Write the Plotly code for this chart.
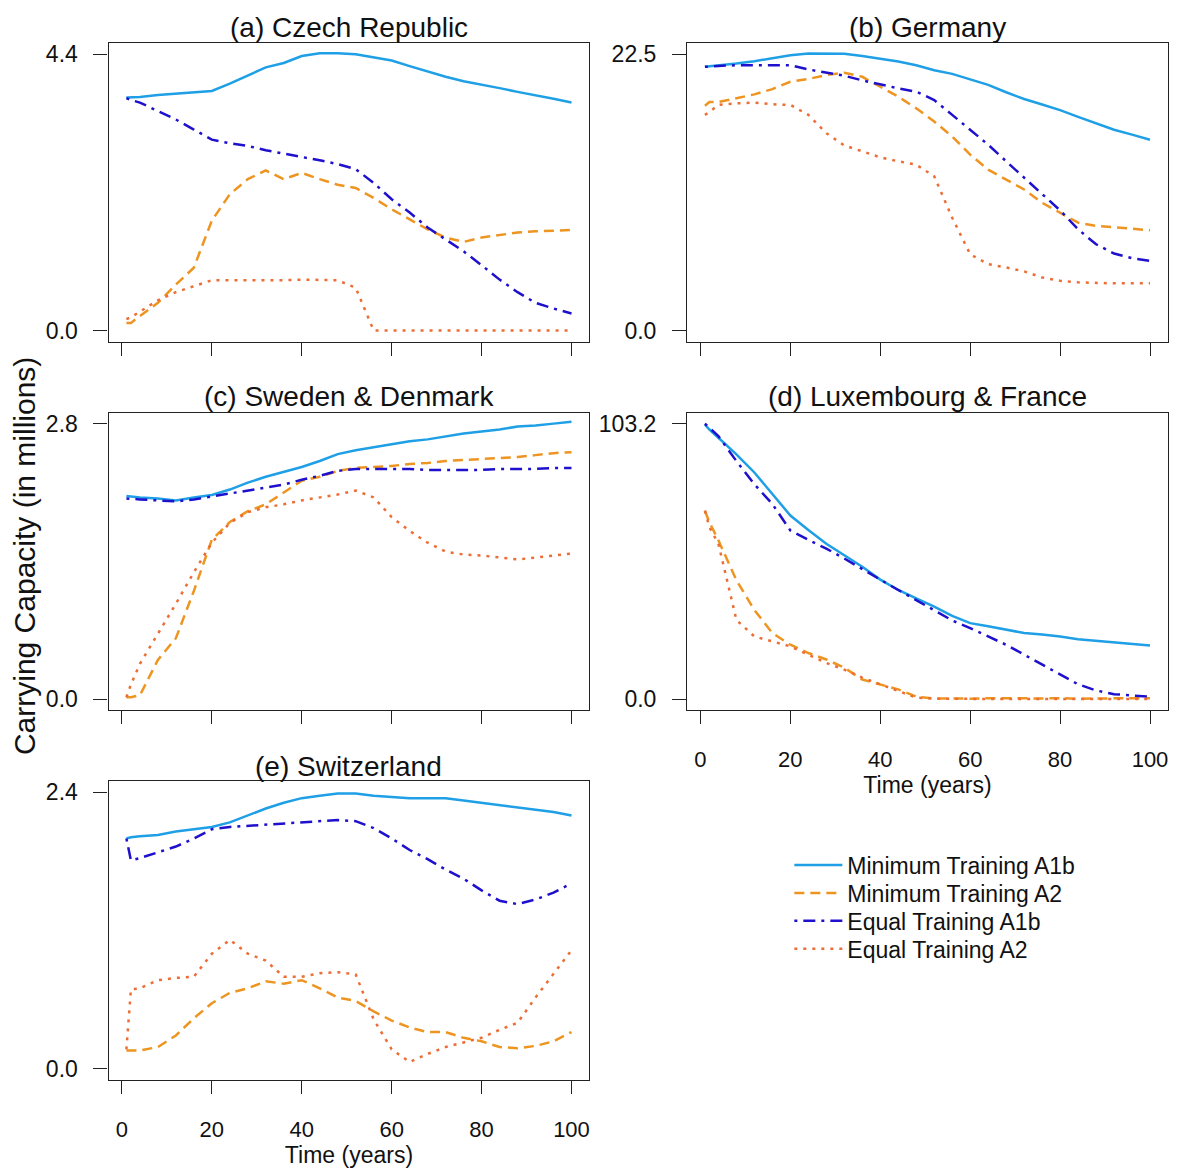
import plotly.graph_objects as go

# ---------------- data ----------------
years = [1, 2, 4, 8, 12, 16, 20, 24, 28, 32, 36, 40, 44, 48, 52, 56, 60, 64, 68, 72, 76, 80, 84, 88, 92, 96, 100]

series_names = ["Minimum Training A1b", "Minimum Training A2", "Equal Training A1b", "Equal Training A2"]

# (a) Czech Republic
cz_min_a1b = [3.71, 3.71, 3.72, 3.75, 3.77, 3.80, 3.815, 3.93, 4.06, 4.19, 4.26, 4.37, 4.415, 4.415, 4.40, 4.35, 4.30, 4.21, 4.12, 4.04, 3.97, 3.92, 3.86, 3.80, 3.75, 3.69, 3.63]
cz_min_a2 = [0.12, 0.12, 0.23, 0.44, 0.73, 1.00, 1.75, 2.17, 2.41, 2.55, 2.41, 2.51, 2.41, 2.32, 2.27, 2.11, 1.93, 1.77, 1.61, 1.48, 1.41, 1.48, 1.52, 1.56, 1.58, 1.59, 1.60]
cz_eq_a1b = [3.70, 3.67, 3.63, 3.50, 3.36, 3.20, 3.04, 2.98, 2.94, 2.87, 2.82, 2.77, 2.71, 2.65, 2.57, 2.35, 2.09, 1.88, 1.64, 1.45, 1.26, 1.04, 0.81, 0.61, 0.44, 0.35, 0.27]
cz_eq_a2 = [0.18, 0.21, 0.30, 0.48, 0.61, 0.71, 0.80, 0.80, 0.80, 0.79, 0.80, 0.81, 0.81, 0.80, 0.68, 0.0, 0.0, 0.0, 0.0, 0.0, 0.0, 0.0, 0.0, 0.0, 0.0, 0.0, 0.0]

# (b) Germany
de_min_a1b = [21.47, 21.5, 21.6, 21.74, 21.93, 22.15, 22.42, 22.55, 22.55, 22.53, 22.35, 22.15, 21.9, 21.6, 21.2, 20.9, 20.45, 20.0, 19.4, 18.85, 18.4, 17.95, 17.4, 16.9, 16.35, 15.95, 15.53]
de_min_a2 = [18.3, 18.6, 18.6, 18.9, 19.23, 19.66, 20.26, 20.48, 20.80, 20.99, 20.66, 19.85, 19.04, 18.1, 17.02, 15.8, 14.32, 13.1, 12.29, 11.48, 10.4, 9.59, 8.78, 8.51, 8.37, 8.29, 8.16]
de_eq_a1b = [21.47, 21.5, 21.55, 21.6, 21.6, 21.6, 21.6, 21.26, 21.0, 20.75, 20.37, 20.04, 19.72, 19.45, 18.77, 17.56, 16.34, 15.13, 13.78, 12.43, 11.07, 9.78, 8.24, 7.02, 6.27, 5.89, 5.67]
de_eq_a2 = [17.56, 17.8, 18.37, 18.5, 18.56, 18.42, 18.37, 17.56, 16.07, 15.07, 14.59, 14.1, 13.78, 13.5, 12.56, 9.18, 6.21, 5.4, 5.13, 4.81, 4.32, 4.05, 3.92, 3.86, 3.84, 3.84, 3.84]

# (c) Sweden & Denmark
sedk_min_a1b = [2.065, 2.06, 2.05, 2.04, 2.02, 2.05, 2.075, 2.13, 2.20, 2.26, 2.31, 2.36, 2.42, 2.49, 2.53, 2.56, 2.59, 2.62, 2.64, 2.67, 2.70, 2.72, 2.74, 2.77, 2.78, 2.80, 2.82]
sedk_min_a2 = [0.02, 0.02, 0.04, 0.40, 0.62, 1.10, 1.62, 1.80, 1.91, 1.98, 2.10, 2.22, 2.26, 2.32, 2.35, 2.36, 2.37, 2.39, 2.40, 2.42, 2.43, 2.44, 2.45, 2.46, 2.48, 2.50, 2.51]
sedk_eq_a1b = [2.04, 2.035, 2.03, 2.02, 2.01, 2.03, 2.06, 2.09, 2.12, 2.15, 2.18, 2.23, 2.27, 2.32, 2.34, 2.34, 2.34, 2.34, 2.33, 2.33, 2.33, 2.33, 2.34, 2.34, 2.34, 2.35, 2.35]
sedk_eq_a2 = [0.02, 0.15, 0.36, 0.66, 0.97, 1.29, 1.59, 1.79, 1.90, 1.95, 1.98, 2.02, 2.05, 2.08, 2.12, 2.05, 1.85, 1.71, 1.59, 1.50, 1.47, 1.46, 1.44, 1.42, 1.44, 1.46, 1.48]

# (d) Luxembourg & France
lufr_min_a1b = [102.8, 101.0, 97.9, 91.7, 84.9, 76.8, 68.8, 63.4, 58.2, 53.9, 49.6, 44.8, 40.9, 37.8, 34.7, 31.2, 28.5, 27.3, 26.0, 24.8, 24.2, 23.5, 22.5, 21.9, 21.3, 20.6, 20.1]
lufr_min_a2 = [70.6, 66.3, 59.5, 44.6, 33.4, 24.8, 20.4, 17.3, 14.9, 11.8, 7.4, 5.6, 3.7, 1.0, 0.25, 0.3, 0.2, 0.4, 0.3, 0.2, 0.3, 0.4, 0.2, 0.3, 0.3, 0.2, 0.4]
lufr_eq_a1b = [103.2, 101.5, 98.5, 89.2, 80.5, 73.1, 63.2, 59.7, 56.4, 52.7, 48.9, 44.8, 40.9, 37.2, 33.4, 29.5, 26.6, 23.5, 20.4, 16.7, 13.0, 9.3, 5.6, 3.3, 1.9, 1.4, 1.0]
lufr_eq_a2 = [70.6, 64.4, 58.2, 29.7, 23.5, 21.7, 19.8, 16.7, 13.6, 11.1, 8.1, 5.6, 3.1, 0.6, 0.2, 0.1, 0.1, 0.1, 0.1, 0.1, 0.1, 0.1, 0.1, 0.1, 0.1, 0.1, 0.1]

# (e) Switzerland
ch_min_a1b = [2.00, 2.01, 2.02, 2.03, 2.06, 2.08, 2.10, 2.14, 2.20, 2.26, 2.31, 2.35, 2.37, 2.39, 2.39, 2.37, 2.36, 2.35, 2.35, 2.35, 2.33, 2.31, 2.29, 2.27, 2.25, 2.23, 2.20]
ch_min_a2 = [0.16, 0.16, 0.16, 0.19, 0.29, 0.44, 0.57, 0.66, 0.70, 0.76, 0.74, 0.77, 0.70, 0.62, 0.59, 0.50, 0.42, 0.36, 0.32, 0.32, 0.27, 0.24, 0.19, 0.18, 0.20, 0.24, 0.32]
ch_eq_a1b = [2.00, 1.81, 1.83, 1.88, 1.93, 2.00, 2.08, 2.10, 2.11, 2.12, 2.13, 2.14, 2.15, 2.16, 2.15, 2.09, 2.00, 1.90, 1.82, 1.73, 1.65, 1.55, 1.46, 1.43, 1.47, 1.53, 1.61]
ch_eq_a2 = [0.17, 0.69, 0.70, 0.77, 0.79, 0.80, 1.00, 1.12, 1.00, 0.94, 0.80, 0.80, 0.83, 0.84, 0.82, 0.43, 0.17, 0.06, 0.13, 0.19, 0.23, 0.27, 0.34, 0.40, 0.62, 0.83, 1.03]

panel_titles = ["(a) Czech Republic", "(b) Germany", "(c) Sweden & Denmark",
                "(d) Luxembourg & France", "(e) Switzerland"]
y_max = [4.4, 22.5, 2.8, 103.2, 2.4]
y_max_labels = ["4.4", "22.5", "2.8", "103.2", "2.4"]
x_ticks = [0, 20, 40, 60, 80, 100]
x_tick_labels = ["0", "20", "40", "60", "80", "100"]

panel_data = [
    [cz_min_a1b, cz_min_a2, cz_eq_a1b, cz_eq_a2],
    [de_min_a1b, de_min_a2, de_eq_a1b, de_eq_a2],
    [sedk_min_a1b, sedk_min_a2, sedk_eq_a1b, sedk_eq_a2],
    [lufr_min_a1b, lufr_min_a2, lufr_eq_a1b, lufr_eq_a2],
    [ch_min_a1b, ch_min_a2, ch_eq_a1b, ch_eq_a2],
]

# ---------------- styling ----------------
W, H = 1181, 1168
FONT = "Liberation Sans, Arial, sans-serif"
colors = ["#1E9FE6", "#EE9420", "#1E10CC", "#EC6E36"]
dashes = ["solid", "10px,6px", "3px,6px,12px,6px", "3px,6px"]
line_w = 2.5

# panel boxes in pixels (left, right, top, bottom)
left_col = (108.7, 589.8)
right_col = (687.7, 1168.8)
rows = [(41.3, 340.7), (412.0, 710.7), (782.0, 1081.7)]
boxes = [
    (left_col, rows[0]), (right_col, rows[0]),
    (left_col, rows[1]), (right_col, rows[1]),
    (left_col, rows[2]),
]
show_xlabels = [False, False, False, True, True]
title_centers_px = [26, 26, 396, 396, 767]
legend_rows_px = [866, 894, 922, 950]
legend_ids = ["legend", "legend2", "legend3", "legend4"]

fig = go.Figure()
layout = dict(
    width=W, height=H,
    margin=dict(l=0, r=0, t=0, b=0),
    paper_bgcolor="white", plot_bgcolor="white",
    font=dict(family=FONT, color="#111"),
    showlegend=True,
)
for i, lid in enumerate(legend_ids):
    layout[lid] = dict(
        x=790 / W, y=1 - legend_rows_px[i] / H, xanchor="left", yanchor="middle",
        font=dict(size=23, family=FONT, color="#111"),
        bgcolor="rgba(0,0,0,0)", borderwidth=0, itemwidth=48,
    )
annotations = []

for p in range(5):
    ax_id = "" if p == 0 else str(p + 1)
    (xl, xr), (yt, yb) = boxes[p]
    for s in range(4):
        fig.add_trace(go.Scatter(
            x=years, y=panel_data[p][s], mode="lines",
            name=series_names[s], legendgroup=series_names[s],
            legend=legend_ids[s],
            showlegend=(p == 0),
            line=dict(color=colors[s], width=line_w, dash=dashes[s]),
            xaxis="x" + ax_id, yaxis="y" + ax_id,
        ))
    ymx = y_max[p]
    layout["xaxis" + ax_id] = dict(
        domain=[xl / W, xr / W], anchor="y" + ax_id,
        range=[-2.96, 103.96],
        tickmode="array", tickvals=x_ticks, ticktext=x_tick_labels,
        showticklabels=show_xlabels[p],
        ticks="outside", ticklen=13, tickwidth=1.3, tickcolor="#222",
        showline=True, mirror=True, linecolor="#222", linewidth=1.3,
        showgrid=False, zeroline=False,
        tickfont=dict(size=22, family=FONT, color="#111"),
        ticklabelstandoff=16,
        title=dict(text="Time (years)" if show_xlabels[p] else "",
                   font=dict(size=23, family=FONT, color="#111"), standoff=0),
    )
    layout["yaxis" + ax_id] = dict(
        domain=[1 - yb / H, 1 - yt / H], anchor="x" + ax_id,
        range=[-0.04 * ymx, 1.04 * ymx],
        tickmode="array", tickvals=[0, ymx], ticktext=["0.0", y_max_labels[p]],
        ticks="outside", ticklen=14, tickwidth=1.3, tickcolor="#222",
        showline=True, mirror=True, linecolor="#222", linewidth=1.3,
        showgrid=False, zeroline=False,
        tickfont=dict(size=23, family=FONT, color="#111"),
        ticklabelstandoff=11,
    )
    annotations.append(dict(
        text=panel_titles[p], xref="paper", yref="paper",
        x=(xl + xr) / 2 / W, y=1 - title_centers_px[p] / H,
        xanchor="center", yanchor="middle", showarrow=False,
        font=dict(size=28, family=FONT, color="#111"),
    ))

annotations.append(dict(
    text="Carrying Capacity (in millions)", xref="paper", yref="paper",
    x=24 / W, y=1 - 556 / H, xanchor="center", yanchor="middle",
    textangle=-90, showarrow=False,
    font=dict(size=30, family=FONT, color="#111"),
))
layout["annotations"] = annotations
fig.update_layout(**layout)

fig.write_html("out.html")
